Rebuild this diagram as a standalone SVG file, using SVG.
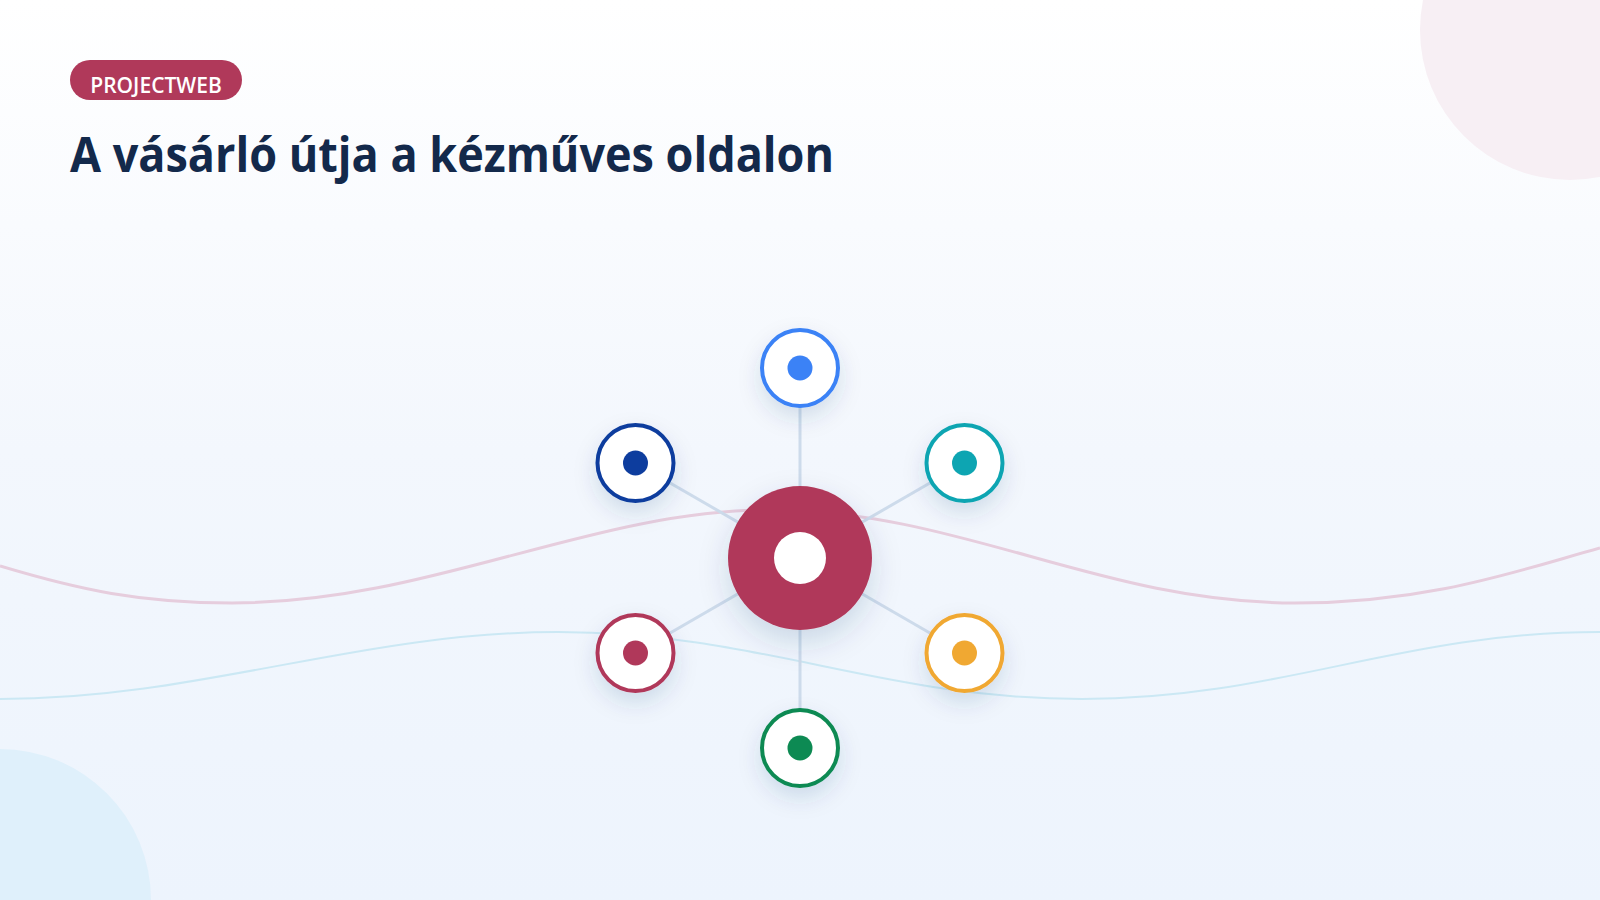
<svg xmlns="http://www.w3.org/2000/svg" width="1600" height="900" viewBox="0 0 1600 900">
  <defs>
    <linearGradient id="bg" x1="0" y1="0" x2="0" y2="1">
      <stop offset="0" stop-color="#ffffff"/>
      <stop offset="0.5" stop-color="#f3f7fd"/>
      <stop offset="1" stop-color="#edf4fd"/>
    </linearGradient>
    <filter id="shadow" x="-60%" y="-60%" width="220%" height="220%">
      <feDropShadow dx="0" dy="10" stdDeviation="11" flood-color="#1e3a6e" flood-opacity="0.14"/>
    </filter>
    <filter id="shadowBig" x="-60%" y="-60%" width="220%" height="220%">
      <feDropShadow dx="0" dy="12" stdDeviation="15" flood-color="#1e3a6e" flood-opacity="0.16"/>
    </filter>
  </defs>
  <style>
    .title { font-family: "Open Sans", "Noto Sans", "Liberation Sans", sans-serif; font-weight: 700; font-size: 48px; fill: #13294b; }
    .pilltext { font-family: "Open Sans", "Noto Sans", "Liberation Sans", sans-serif; font-weight: 600; font-size: 21px; fill: #ffffff; }
    .ring { fill: #ffffff; stroke-width: 4; }
    .link { stroke: #cddbeb; stroke-width: 3; fill: none; }
    .wave-pink { stroke: #e6cddd; stroke-width: 3; fill: none; }
    .wave-blue { stroke: #cbe8f4; stroke-width: 2; fill: none; }
  </style>

  <rect x="0" y="0" width="1600" height="900" fill="url(#bg)"/>
  <circle cx="1570" cy="30" r="150" fill="#f7eff4"/>
  <circle cx="0" cy="900" r="151" fill="#dff0fb"/>

  <path class="wave-pink" d="M0 566 C 80 590, 140 603, 232 603 C 430 603, 590 510, 770 510 C 960 510, 1100 603, 1295 603 C 1430 603, 1520 570, 1600 548"/>
  <path class="wave-blue" d="M0 699 C 200 699, 360 632, 558 632 C 760 632, 880 699, 1082 699 C 1280 699, 1400 632, 1600 632"/>

  <g id="badge">
    <rect x="70" y="60" width="172" height="40" rx="20" fill="#b0395a"/>
    <text class="pilltext" x="156" y="93" text-anchor="middle">PROJECTWEB</text>
  </g>
  <g id="title">
    <text class="title" x="70" y="172" textLength="764" lengthAdjust="spacingAndGlyphs">A vásárló útja a kézműves oldalon</text>
  </g>

  <g id="connectors">
    <line class="link" x1="800" y1="558" x2="800" y2="368"/>
    <line class="link" x1="800" y1="558" x2="964.5" y2="463"/>
    <line class="link" x1="800" y1="558" x2="964.5" y2="653"/>
    <line class="link" x1="800" y1="558" x2="800" y2="748"/>
    <line class="link" x1="800" y1="558" x2="635.5" y2="653"/>
    <line class="link" x1="800" y1="558" x2="635.5" y2="463"/>
  </g>

  <g id="node-top" filter="url(#shadow)">
    <circle class="ring" cx="800" cy="368" r="38" stroke="#3b82f6"/>
    <circle cx="800" cy="368" r="12.5" fill="#3b82f6"/>
  </g>
  <g id="node-top-right" filter="url(#shadow)">
    <circle class="ring" cx="964.5" cy="463" r="38" stroke="#10a5b2"/>
    <circle cx="964.5" cy="463" r="12.5" fill="#10a5b2"/>
  </g>
  <g id="node-bottom-right" filter="url(#shadow)">
    <circle class="ring" cx="964.5" cy="653" r="38" stroke="#f0a832"/>
    <circle cx="964.5" cy="653" r="12.5" fill="#f0a832"/>
  </g>
  <g id="node-bottom" filter="url(#shadow)">
    <circle class="ring" cx="800" cy="748" r="38" stroke="#0e8a52"/>
    <circle cx="800" cy="748" r="12.5" fill="#0e8a52"/>
  </g>
  <g id="node-bottom-left" filter="url(#shadow)">
    <circle class="ring" cx="635.5" cy="653" r="38" stroke="#b0395a"/>
    <circle cx="635.5" cy="653" r="12.5" fill="#b0395a"/>
  </g>
  <g id="node-top-left" filter="url(#shadow)">
    <circle class="ring" cx="635.5" cy="463" r="38" stroke="#0f3d9e"/>
    <circle cx="635.5" cy="463" r="12.5" fill="#0f3d9e"/>
  </g>
  <g id="node-center" filter="url(#shadowBig)">
    <circle cx="800" cy="558" r="72" fill="#b0395a"/>
    <circle cx="800" cy="558" r="26" fill="#ffffff"/>
  </g>
</svg>
